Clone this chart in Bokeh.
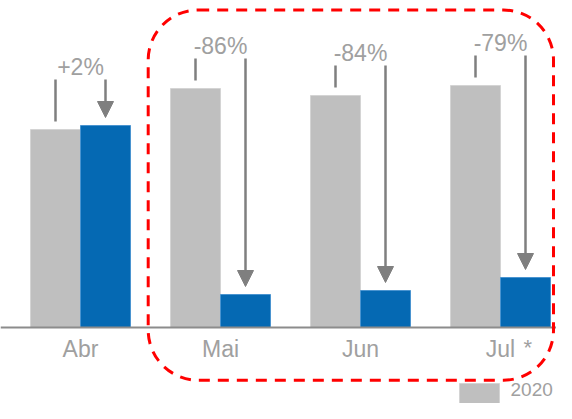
from bokeh.plotting import figure
from bokeh.models import (Range1d, FixedTicker, BoxAnnotation, Arrow, NormalHead,
                          ColumnDataSource)
from bokeh.core.properties import value
from bokeh.embed import file_html
from bokeh.resources import INLINE

# ---- data ----
months = ["Abr", "Mai", "Jun", "Jul"]
month_notes = ["", "", "", "*"]
prev_year = [198, 239, 232, 242]   # gray bars
curr_year = [202, 33, 37, 50]      # blue bars
change_labels = ["+2%", "-86%", "-84%", "-79%"]
legend_label = "2020"

# ---- layout / style ----
W, H = 556, 403
GRAY = "#bfbfbf"
BLUE = "#0569b3"
LINE = "#7f7f7f"
TEXT = "#a0a0a0"
RED = "#ff0000"
FONT = "Liberation Sans"
STEP = 140.0                      # px per category
X0 = 80                           # px of first category centre
Y0 = 327                          # px of baseline
OFF = 25 / STEP                   # bar centre offset
BW = 50 / STEP                    # bar width
bracket_gap = [46, 30, 30, 30]    # bracket top above the taller bar
GAP = 8

x = list(range(len(months)))
xg = [v - OFF for v in x]
xb = [v + OFF for v in x]

p = figure(width=W, height=H,
           x_range=Range1d(-X0 / STEP, (W - X0) / STEP),
           y_range=Range1d(Y0 - H, Y0),
           output_backend="svg", toolbar_location=None,
           min_border=0, outline_line_color=None)
p.grid.visible = False
p.yaxis.visible = False

xa = p.xaxis[0]
xa.fixed_location = 0
xa.ticker = FixedTicker(ticks=x)
xa.major_label_overrides = {i: m for i, m in enumerate(months)}
xa.major_tick_line_color = None
xa.minor_tick_line_color = None
xa.major_tick_out = 0
xa.major_tick_in = 0
xa.major_label_standoff = 8
xa.axis_line_color = "#8c8c8c"
xa.axis_line_width = 2
xa.major_label_text_font = FONT
xa.major_label_text_font_size = "23px"
xa.major_label_text_color = TEXT

p.vbar(x=xg, top=prev_year, width=BW, fill_color=GRAY, line_color="#d4d4d4", line_width=1)
p.vbar(x=xb, top=curr_year, width=BW, fill_color=BLUE, line_color="#4a94d0", line_width=1)

tops = [max(g, b) + k for g, b, k in zip(prev_year, curr_year, bracket_gap)]

p.segment(x0=xg, y0=tops, x1=xg, y1=[g + GAP for g in prev_year],
          line_color=LINE, line_width=2.5)

arrow_src = ColumnDataSource(dict(x0=xb, y0=tops, x1=xb, y1=[b + GAP for b in curr_year]))
p.add_layout(Arrow(end=NormalHead(size=16, fill_color=LINE, line_color=LINE),
                   x_start="x0", y_start="y0", x_end="x1", y_end="y1",
                   source=arrow_src, line_color=LINE, line_width=2.5))

p.text(x=x, y=[t + 13 for t in tops], text=change_labels,
       text_align="center", text_baseline="alphabetic",
       text_font=value(FONT), text_font_size="23px", text_color=TEXT)

p.text(x=[v + 23 / STEP for v in x], y=[-19.5] * len(x), text=month_notes,
       text_align="left", text_baseline="alphabetic",
       text_font=value(FONT), text_font_size="22px", text_color=TEXT)

# red dashed highlight around Mai..Jul
p.add_layout(BoxAnnotation(left=1 - 72.3 / STEP, right=3 + 53 / STEP, top=317.5, bottom=-52.7,
                           fill_alpha=0, line_color=RED, line_alpha=1, line_width=3,
                           line_dash="11 8", border_radius=50))

# legend swatch + label (kept inside the canvas)
p.rect(x=[3 - 21 / STEP], y=[-66], width=40, height=20,
       width_units="screen", height_units="screen",
       fill_color=GRAY, line_color="#d4d4d4")
p.text(x=[3 + 10 / STEP], y=[-62], text=[legend_label],
       text_align="left", text_baseline="alphabetic",
       text_font=value(FONT), text_font_size="19px", text_color=TEXT)

open("out.html", "w").write(file_html(p, INLINE))
